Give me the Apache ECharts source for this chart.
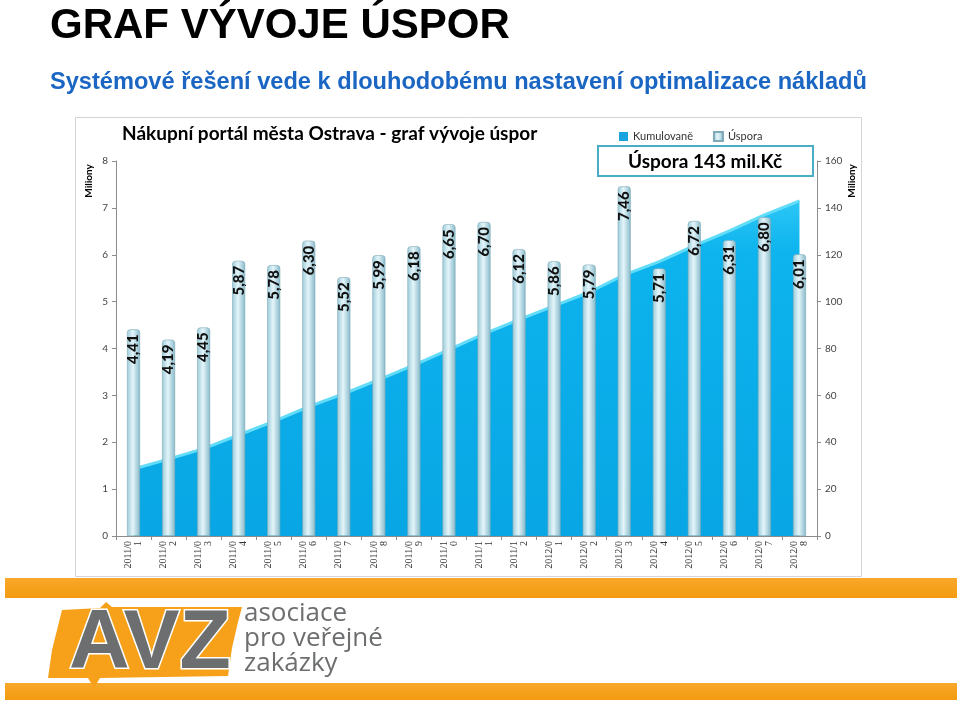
<!DOCTYPE html>
<html>
<head>
<meta charset="utf-8">
<style>
html,body{margin:0;padding:0;background:#fff;}
#c{width:960px;height:701px;}
</style>
<script src="https://cdn.jsdelivr.net/npm/echarts@6/dist/echarts.min.js"></script>
</head>
<body>
<div id="c"></div>
<script>
// ---- data ----
var categories = ['2011/01','2011/02','2011/03','2011/04','2011/05','2011/06','2011/07','2011/08','2011/09','2011/10',
                  '2011/11','2011/12','2012/01','2012/02','2012/03','2012/04','2012/05','2012/06','2012/07','2012/08'];
var savings = [4.41, 4.19, 4.45, 5.87, 5.78, 6.30, 5.52, 5.99, 6.18, 6.65,
               6.70, 6.12, 5.86, 5.79, 7.46, 5.71, 6.72, 6.31, 6.80, 6.01];
var cumulative = [28.6, 32.8, 37.3, 43.1, 48.9, 55.2, 60.7, 66.7, 72.9, 79.5,
                  86.2, 92.3, 98.2, 104.0, 111.4, 117.1, 123.9, 130.2, 137.0, 143.0];
var leftTicks = [0,1,2,3,4,5,6,7,8];
var rightTicks = [0,20,40,60,80,100,120,140,160];
var seriesNames = ['Kumulovaně', 'Úspora'];
var pageTitle = 'GRAF VÝVOJE ÚSPOR';
var pageSubtitle = 'Systémové řešení vede k dlouhodobému nastavení optimalizace nákladů';
var chartTitle = 'Nákupní portál města Ostrava - graf vývoje úspor';
var totalBox = 'Úspora 143 mil.Kč';
var axisTitle = 'Miliony';
var logoLines = ['asociace', 'pro veřejné', 'zakázky'];

var chart = echarts.init(document.getElementById('c'), null, {renderer:'canvas'});

var barGrad = new echarts.graphic.LinearGradient(0,0,1,0,[
  {offset:0, color:'#9ccbd9'},
  {offset:0.45, color:'#e4f5fa'},
  {offset:1, color:'#86b9c9'}
]);
var areaGrad = new echarts.graphic.LinearGradient(0,0,0,1,[
  {offset:0, color:'#2cc6f6'},
  {offset:0.15, color:'#0db4ee'},
  {offset:1, color:'#08a6e4'}
]);
var orangeGrad = function(){
  return new echarts.graphic.LinearGradient(0,0,0,1,[{offset:0,color:'#f9a82a'},{offset:1,color:'#f39a10'}]);
};

var option = {
  animation:false,
  backgroundColor:'#ffffff',
  legend:{
    data:seriesNames,
    left:614, top:126,
    icon:'rect', itemWidth:9, itemHeight:9, itemGap:20,
    textStyle:{fontSize:11, color:'#333', fontFamily:'Lato'}
  },
  grid:{left:116, right:143, top:161, bottom:165, containLabel:false},
  xAxis:{
    type:'category',
    data:categories,
    axisLine:{lineStyle:{color:'#8c8c8c'}},
    axisTick:{show:true, length:4, lineStyle:{color:'#8c8c8c'}},
    axisLabel:{
      rotate:90, interval:0, margin:5,
      fontSize:10, color:'#333', fontFamily:'Liberation Serif',
      lineHeight:10,
      formatter:function(v){return v.slice(0,6)+'\n'+v.slice(6);}
    }
  },
  yAxis:[
    {
      type:'value', min:0, max:8, interval:1,
      axisLine:{show:true, lineStyle:{color:'#8c8c8c'}},
      axisTick:{show:true, length:4, lineStyle:{color:'#8c8c8c'}},
      splitLine:{show:false},
      axisLabel:{fontSize:10, color:'#444', margin:8, fontFamily:'Lato',
        formatter:function(v){return leftTicks.indexOf(v)>=0 ? String(v) : '';}}
    },
    {
      type:'value', min:0, max:160, interval:20,
      axisLine:{show:true, lineStyle:{color:'#8c8c8c'}},
      axisTick:{show:true, length:4, lineStyle:{color:'#8c8c8c'}},
      splitLine:{show:false},
      axisLabel:{fontSize:10, color:'#444', margin:8, fontFamily:'Lato',
        formatter:function(v){return rightTicks.indexOf(v)>=0 ? String(v) : '';}}
    }
  ],
  series:[
    {
      name:seriesNames[0],
      type:'line',
      yAxisIndex:1,
      data:cumulative,
      z:1,
      symbol:'none',
      smooth:false,
      itemStyle:{color:'#1aa3de'},
      lineStyle:{color:'#62dcf8', width:3},
      areaStyle:{color:areaGrad, opacity:1}
    },
    {
      name:seriesNames[1],
      type:'bar',
      yAxisIndex:0,
      data:savings,
      z:3,
      barWidth:13,
      itemStyle:{color:barGrad, borderColor:'#7fa9b6', borderWidth:0.6, borderRadius:[3,3,0,0]},
      label:{
        show:true,
        position:'insideTop',
        distance:5,
        rotate:90,
        align:'right',
        verticalAlign:'middle',
        fontSize:15,
        fontWeight:900,
        fontFamily:'Lato',
        color:'#111',
        formatter:function(p){return p.value.toFixed(2).replace('.',',');}
      }
    }
  ],
  graphic:[
    // chart frame
    {type:'rect', z:-10, shape:{x:75.5,y:117.5,width:786,height:459}, style:{fill:'#fff', stroke:'#d4d4d4', lineWidth:1}, silent:true},
    // page title
    {type:'text', left:50, top:5, z:10, style:{text:pageTitle, fill:'#000', font:'bold 42px "Liberation Sans", Arial', shadowColor:'rgba(0,0,0,0.35)', shadowBlur:3, shadowOffsetX:2, shadowOffsetY:2}},
    // subtitle
    {type:'text', left:50, top:70, z:10, style:{text:pageSubtitle, fill:'#1a66c2', font:'bold 23.6px "Liberation Sans", Arial', shadowColor:'rgba(0,0,0,0.25)', shadowBlur:2, shadowOffsetX:1, shadowOffsetY:1}},
    // chart title
    {type:'text', left:122, top:124, z:10, style:{text:chartTitle, fill:'#000', font:'bold 19px Lato'}},
    // total box
    {type:'rect', z:10, shape:{x:598,y:146,width:215,height:30}, style:{fill:'#fff', stroke:'#4bacc6', lineWidth:2}},
    {type:'text', z:11, x:705, y:162, style:{text:totalBox, fill:'#000', font:'bold 19px Lato', textAlign:'center', textVerticalAlign:'middle'}},
    // axis titles
    {type:'text', z:10, x:89, y:181, rotation:Math.PI/2, style:{text:axisTitle, fill:'#000', font:'bold 10px Lato', textAlign:'center', textVerticalAlign:'middle'}},
    {type:'text', z:10, x:852, y:181, rotation:Math.PI/2, style:{text:axisTitle, fill:'#000', font:'bold 10px Lato', textAlign:'center', textVerticalAlign:'middle'}},
    // orange bands
    {type:'rect', z:5, shape:{x:5,y:578,width:952,height:20}, style:{fill:orangeGrad()}},
    {type:'rect', z:5, shape:{x:5,y:683,width:952,height:17}, style:{fill:orangeGrad()}},
    // logo shape
    {type:'polygon', z:6, shape:{points:[[62,610],[100,608],[106,602],[112,607],[242,607],[238,622],[232,648],[228,676],[100,678],[94,688],[88,678],[48,678],[52,650]]}, style:{fill:'#f7a11a'}},
    {type:'text', z:7, x:150, y:645, style:{text:'AVZ', fill:'#6d6e70', stroke:'#ffffff', lineWidth:3, font:'bold 84px "Liberation Sans", Arial', textAlign:'center', textVerticalAlign:'middle'}},
    {type:'text', z:7, left:244, top:601, style:{text:logoLines[0], fill:'#6d6e70', font:'26px "Open Sans"'}},
    {type:'text', z:7, left:244, top:626, style:{text:logoLines[1], fill:'#6d6e70', font:'26px "Open Sans"'}},
    {type:'text', z:7, left:244, top:651, style:{text:logoLines[2], fill:'#6d6e70', font:'26px "Open Sans"'}}
  ]
};
chart.setOption(option);
</script>
</body>
</html>
